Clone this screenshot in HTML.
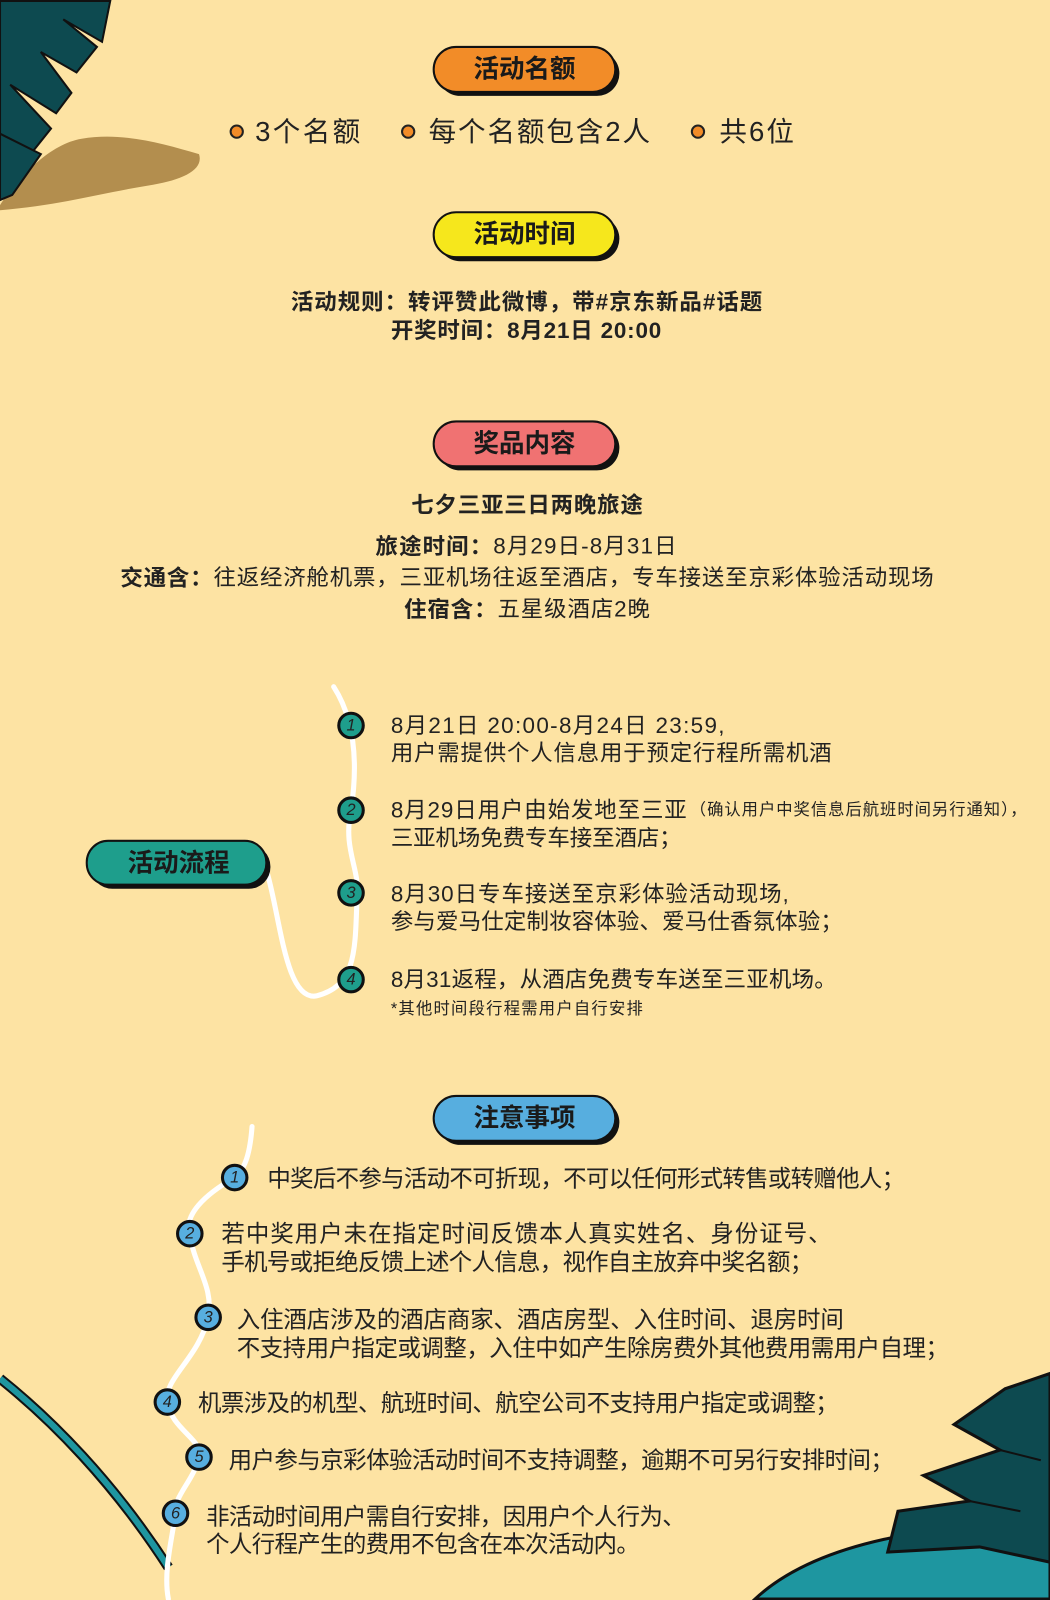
<!DOCTYPE html>
<html><head><meta charset="utf-8"><style>
html,body{margin:0;padding:0;background:#FDE3A3;}
svg{display:block}
text{font-family:"Liberation Sans","Noto Sans CJK SC",sans-serif;fill:#222;dominant-baseline:central}
.pt{font-size:25px;font-weight:bold;text-anchor:middle;fill:#1a1a1a}
</style></head><body>
<svg width="1050" height="1600" viewBox="0 0 1029 1566" xmlns="http://www.w3.org/2000/svg">
<rect width="1029" height="1566" fill="#FDE3A3"/>
<path d="M0,200 C20,170 50,140 80,135 C120,128 160,140 195,150 C200,165 180,175 150,180 C100,188 60,200 0,205 Z" fill="#B38E4E"/>
<path d="M0,0 L108,0 L100,40 L62,18 L95,45 L75,70 L40,50 L70,90 L55,110 L10,82 L50,125 L30,150 L0,130 Z" fill="#0D4A50" stroke="#111" stroke-width="2"/>
<path d="M0,130 L40,150 L12,190 L0,195 Z" fill="#0D4A50" stroke="#111" stroke-width="2"/>
<path d="M0,1350 C50,1390 110,1450 165,1535" stroke="#111" stroke-width="10" fill="none"/>
<path d="M0,1350 C50,1390 110,1450 165,1535" stroke="#1E96A0" stroke-width="6" fill="none"/>
<path d="M740,1566 C800,1510 920,1490 1029,1495 L1029,1566 Z" fill="#1E96A0" stroke="#111" stroke-width="3"/>
<path d="M1029,1345 L985,1360 L935,1395 L980,1420 L905,1445 L950,1470 L880,1480 L870,1520 L960,1515 L1029,1530 Z" fill="#0D4A50" stroke="#111" stroke-width="3"/>
<path d="M950,1470 L1000,1480 M980,1420 L1020,1430" stroke="#111" stroke-width="2"/>

<g>
<rect x="429" y="49" width="178" height="44" rx="22" fill="#111"/>
<rect x="425" y="45" width="178" height="44" rx="22" fill="#F28C28" stroke="#111" stroke-width="2"/>
<text x="514" y="67" class="pt">活动名额</text>
</g>
<g>
<rect x="429" y="211" width="178" height="44" rx="22" fill="#111"/>
<rect x="425" y="207" width="178" height="44" rx="22" fill="#F6E71C" stroke="#111" stroke-width="2"/>
<text x="514" y="229" class="pt">活动时间</text>
</g>
<g>
<rect x="429" y="416" width="178" height="44" rx="22" fill="#111"/>
<rect x="425" y="412" width="178" height="44" rx="22" fill="#F07272" stroke="#111" stroke-width="2"/>
<text x="514" y="434" class="pt">奖品内容</text>
</g>
<g>
<rect x="429" y="1077" width="178" height="44" rx="22" fill="#111"/>
<rect x="425" y="1073" width="178" height="44" rx="22" fill="#57AEDF" stroke="#111" stroke-width="2"/>
<text x="514" y="1095" class="pt">注意事项</text>
</g>

<circle cx="232" cy="128" r="6" fill="#F28C28" stroke="#222" stroke-width="2"/>
<text x="250" y="128" font-size="27" textLength="103" lengthAdjust="spacing">3个名额</text>
<circle cx="400" cy="128" r="6" fill="#F28C28" stroke="#222" stroke-width="2"/>
<text x="420" y="128" font-size="27" textLength="217" lengthAdjust="spacing">每个名额包含2人</text>
<circle cx="684" cy="128" r="6" fill="#F28C28" stroke="#222" stroke-width="2"/>
<text x="705" y="128" font-size="27" textLength="73" lengthAdjust="spacing">共6位</text>

<text x="285" y="295" font-size="22" font-weight="bold" textLength="462" lengthAdjust="spacing">活动规则：转评赞此微博，带#京东新品#话题</text>
<text x="383" y="323" font-size="22" font-weight="bold" textLength="265" lengthAdjust="spacing">开奖时间：8月21日 20:00</text>

<text x="403" y="494" font-size="22" font-weight="bold" textLength="227" lengthAdjust="spacing">七夕三亚三日两晚旅途</text>
<text x="368" y="534" font-size="22" textLength="295" lengthAdjust="spacing"><tspan font-weight="bold">旅途时间：</tspan>8月29日-8月31日</text>
<text x="118" y="565" font-size="22" textLength="797" lengthAdjust="spacing"><tspan font-weight="bold">交通含：</tspan>往返经济舱机票，三亚机场往返至酒店，专车接送至京彩体验活动现场</text>
<text x="396" y="596" font-size="22" textLength="241" lengthAdjust="spacing"><tspan font-weight="bold">住宿含：</tspan>五星级酒店2晚</text>

<path d="M327,672 C345,700 352,740 344,793 C336,830 352,850 350,874 C348,930 350,965 310,975 C280,980 275,900 262,855" stroke="#fff" stroke-width="5" fill="none" stroke-linecap="round"/>
<rect x="89" y="827" width="176" height="43" rx="21" fill="#111"/>
<rect x="85" y="823" width="176" height="43" rx="21" fill="#1E9E8C" stroke="#111" stroke-width="2"/>
<text x="175" y="845" class="pt">活动流程</text>
<g font-size="16" font-style="italic" text-anchor="middle">
<circle cx="344" cy="710" r="12" fill="#1E9E8C" stroke="#111" stroke-width="3"/><text x="344" y="710">1</text>
<circle cx="344" cy="793" r="12" fill="#1E9E8C" stroke="#111" stroke-width="3"/><text x="344" y="793">2</text>
<circle cx="344" cy="874" r="12" fill="#1E9E8C" stroke="#111" stroke-width="3"/><text x="344" y="874">3</text>
<circle cx="344" cy="959" r="12" fill="#1E9E8C" stroke="#111" stroke-width="3"/><text x="344" y="959">4</text>
</g>
<g font-size="22">
<text x="383" y="710" textLength="327" lengthAdjust="spacing">8月21日 20:00-8月24日 23:59,</text>
<text x="383" y="737" textLength="432" lengthAdjust="spacing">用户需提供个人信息用于预定行程所需机酒</text>
<text x="383" y="793" textLength="290" lengthAdjust="spacing">8月29日用户由始发地至三亚</text>
<text x="676" y="793" font-size="16" textLength="330" lengthAdjust="spacing">（确认用户中奖信息后航班时间另行通知），</text>
<text x="383" y="820" textLength="285" lengthAdjust="spacing">三亚机场免费专车接至酒店；</text>
<text x="383" y="875" textLength="390" lengthAdjust="spacing">8月30日专车接送至京彩体验活动现场,</text>
<text x="383" y="902" textLength="443" lengthAdjust="spacing">参与爱马仕定制妆容体验、爱马仕香氛体验；</text>
<text x="383" y="959" textLength="437" lengthAdjust="spacing">8月31返程，从酒店免费专车送至三亚机场。</text>
<text x="383" y="988" font-size="16" textLength="247" lengthAdjust="spacing">*其他时间段行程需用户自行安排</text>
</g>

<path d="M247,1103 C245,1130 240,1145 230,1153 C200,1170 180,1190 186,1208 C190,1240 210,1260 204,1290 C195,1330 160,1350 164,1373 C168,1400 200,1410 195,1427 C190,1450 170,1465 172,1482 C168,1510 160,1540 165,1566" stroke="#fff" stroke-width="5" fill="none" stroke-linecap="round"/>
<g font-size="16" font-style="italic" text-anchor="middle">
<circle cx="230" cy="1153" r="12" fill="#57AEDF" stroke="#111" stroke-width="3"/><text x="230" y="1153">1</text>
<circle cx="186" cy="1208" r="12" fill="#57AEDF" stroke="#111" stroke-width="3"/><text x="186" y="1208">2</text>
<circle cx="204" cy="1290" r="12" fill="#57AEDF" stroke="#111" stroke-width="3"/><text x="204" y="1290">3</text>
<circle cx="164" cy="1373" r="12" fill="#57AEDF" stroke="#111" stroke-width="3"/><text x="164" y="1373">4</text>
<circle cx="195" cy="1427" r="12" fill="#57AEDF" stroke="#111" stroke-width="3"/><text x="195" y="1427">5</text>
<circle cx="172" cy="1482" r="12" fill="#57AEDF" stroke="#111" stroke-width="3"/><text x="172" y="1482">6</text>
</g>
<g font-size="23">
<text x="262" y="1154" textLength="625" lengthAdjust="spacing">中奖后不参与活动不可折现，不可以任何形式转售或转赠他人；</text>
<text x="217" y="1208" textLength="598" lengthAdjust="spacing">若中奖用户未在指定时间反馈本人真实姓名、身份证号、</text>
<text x="217" y="1236" textLength="580" lengthAdjust="spacing">手机号或拒绝反馈上述个人信息，视作自主放弃中奖名额；</text>
<text x="232" y="1292" textLength="595" lengthAdjust="spacing">入住酒店涉及的酒店商家、酒店房型、入住时间、退房时间</text>
<text x="232" y="1320" textLength="698" lengthAdjust="spacing">不支持用户指定或调整，入住中如产生除房费外其他费用需用户自理；</text>
<text x="194" y="1374" textLength="628" lengthAdjust="spacing">机票涉及的机型、航班时间、航空公司不支持用户指定或调整；</text>
<text x="224" y="1430" textLength="652" lengthAdjust="spacing">用户参与京彩体验活动时间不支持调整，逾期不可另行安排时间；</text>
<text x="202" y="1485" textLength="470" lengthAdjust="spacing">非活动时间用户需自行安排，因用户个人行为、</text>
<text x="202" y="1512" textLength="425" lengthAdjust="spacing">个人行程产生的费用不包含在本次活动内。</text>
</g>
</svg>
</body></html>
